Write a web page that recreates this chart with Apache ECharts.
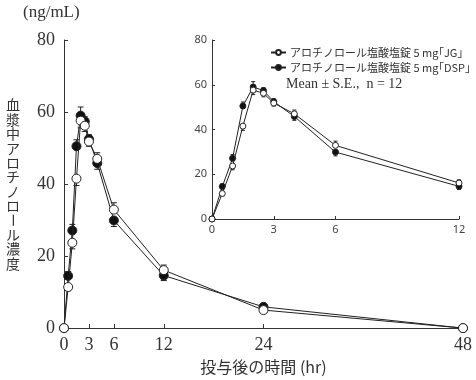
<!DOCTYPE html>
<html><head><meta charset="utf-8">
<script src="https://cdn.jsdelivr.net/npm/echarts@6/dist/echarts.min.js"></script>
<style>html,body{margin:0;padding:0;background:#fff}#c{width:476px;height:380px}</style>
</head><body><div id="c"></div>
<script>
// ---- data ----
const times = [0, 0.5, 1, 1.5, 2, 2.5, 3, 4, 6, 12, 24, 48];
const jgMean = [0, 11.4, 23.7, 41.5, 57.6, 56.2, 51.8, 47.0, 32.9, 16.1, 5.0, 0];
const dspMean = [0, 14.5, 27.1, 50.5, 59.0, 57.4, 52.5, 45.8, 29.9, 14.6, 5.9, 0];
const jgSE = [0, 1.0, 1.7, 1.9, 2.0, 1.6, 1.3, 1.7, 1.9, 1.4, 0.6, 0];
const dspSE = [0, 1.2, 1.7, 1.8, 2.4, 1.3, 1.2, 1.7, 1.7, 1.4, 0.6, 0];
const mainXTicks = [0, 3, 6, 12, 24, 48];
const insetXTicks = [0, 3, 6, 12];
const insetMaxT = 12;
const nameJG = 'アロチノロール塩酸塩錠 5 mg｢JG｣';
const nameDSP = 'アロチノロール塩酸塩錠 5 mg｢DSP｣';
const statsNote = 'Mean ± S.E.,  n = 12';
const yTitle = '血漿中アロチノロール濃度';
const yUnit = '(ng/mL)';
const xTitle = '投与後の時間 (hr)';

// ---- build ----
const pairs = (m, maxT) => times.map((t, i) => [t, m[i]]).filter(p => p[0] <= maxT);
const errData = (m, se, other, maxT) => times.map((t, i) => [t, m[i], se[i], m[i] >= other[i] ? 1 : -1]).filter(p => p[0] <= maxT);
const numFont = 'Liberation Serif';
const cjk = 'Noto Sans CJK JP';

function errSeries(data, xi, yi, cap) {
  return {
    type: 'custom', xAxisIndex: xi, yAxisIndex: yi, z: 1, silent: true,
    data: data,
    renderItem: function (params, api) {
      const t = api.value(0), m = api.value(1), se = api.value(2), d = api.value(3);
      if (!se) return null;
      const p0 = api.coord([t, m]);
      const p1 = api.coord([t, m + d * se]);
      return {
        type: 'group', children: [
          { type: 'line', shape: { x1: p0[0], y1: p0[1], x2: p1[0], y2: p1[1] }, style: { stroke: '#222', lineWidth: 1 } },
          { type: 'line', shape: { x1: p1[0] - cap, y1: p1[1], x2: p1[0] + cap, y2: p1[1] }, style: { stroke: '#222', lineWidth: 1 } }
        ]
      };
    }
  };
}
function lineSeries(name, data, xi, yi, open, size) {
  return {
    name: name, type: 'line', xAxisIndex: xi, yAxisIndex: yi, data: data,
    symbol: 'circle', symbolSize: size, showSymbol: true, z: open ? 4 : 3,
    lineStyle: { color: '#222', width: 1 },
    itemStyle: { color: open ? '#fff' : '#111', borderColor: '#222', borderWidth: 1 },
    emphasis: { disabled: true }, animation: false
  };
}

const axisLineStyle = { lineStyle: { color: '#333', width: 1 } };
const graphics = [
  { type: 'text', left: 23, top: 4, style: { text: yUnit, font: '17px "' + numFont + '"', fill: '#333' } },
  { type: 'text', left: 286, top: 77, style: { text: statsNote, font: '14px "' + numFont + '"', fill: '#333' } }
];
Array.from(yTitle).forEach((ch, i) => {
  const cy = 105 + i * 14.4;
  graphics.push({
    type: 'text', x: 13, y: cy, rotation: ch === 'ー' ? -Math.PI / 2 : 0,
    style: { text: ch, font: '14px "' + cjk + '"', fill: '#333', align: 'center', verticalAlign: 'middle' }
  });
});

const option = {
  animation: false,
  backgroundColor: '#fff',
  grid: [
    { left: 64, right: 13, top: 40, bottom: 51 },
    { left: 212, right: 17, top: 40, bottom: 161 }
  ],
  xAxis: [
    {
      type: 'value', gridIndex: 0, min: 0, max: 48,
      axisLine: axisLineStyle, splitLine: { show: false },
      axisTick: { inside: true, length: 4, customValues: mainXTicks, lineStyle: { color: '#333' } },
      axisLabel: { customValues: mainXTicks, margin: 8, fontSize: 18, fontFamily: numFont, color: '#333' },
      name: xTitle, nameLocation: 'middle', nameGap: 30,
      nameTextStyle: { fontSize: 16, fontFamily: cjk, color: '#333' }
    },
    {
      type: 'value', gridIndex: 1, min: 0, max: insetMaxT,
      axisLine: axisLineStyle, splitLine: { show: false },
      axisTick: { inside: true, length: 3, customValues: insetXTicks, lineStyle: { color: '#333' } },
      axisLabel: { customValues: insetXTicks, margin: 5, fontSize: 11, fontFamily: 'Noto Sans', color: '#444' }
    }
  ],
  yAxis: [
    {
      type: 'value', gridIndex: 0, min: 0, max: 80, interval: 20,
      axisLine: { show: true, lineStyle: { color: '#333', width: 1 } }, splitLine: { show: false },
      axisTick: { show: true, inside: true, length: 4, lineStyle: { color: '#333' } },
      axisLabel: { margin: 9, fontSize: 18, fontFamily: numFont, color: '#333' }
    },
    {
      type: 'value', gridIndex: 1, min: 0, max: 80, interval: 20,
      axisLine: { show: true, lineStyle: { color: '#333', width: 1 } }, splitLine: { show: false },
      axisTick: { show: true, inside: true, length: 3, lineStyle: { color: '#333' } },
      axisLabel: { margin: 5, fontSize: 11, fontFamily: 'Noto Sans', color: '#444' }
    }
  ],
  legend: {
    data: [nameJG, nameDSP], orient: 'vertical', left: 265, top: 42,
    itemWidth: 15, itemHeight: 6, itemGap: 4, selectedMode: false,
    textStyle: { fontSize: 11, fontFamily: cjk, color: '#333', padding: [0, 0, 0, -1] }
  },
  graphic: graphics,
  series: [
    errSeries(errData(dspMean, dspSE, jgMean, insetMaxT), 1, 1, 2),
    errSeries(errData(jgMean, jgSE, dspMean, insetMaxT), 1, 1, 2),
    lineSeries(nameDSP, pairs(dspMean, insetMaxT), 1, 1, false, 6),
    lineSeries(nameJG, pairs(jgMean, insetMaxT), 1, 1, true, 6),
    errSeries(errData(dspMean, dspSE, jgMean, 48), 0, 0, 3),
    errSeries(errData(jgMean, jgSE, dspMean, 48), 0, 0, 3),
    lineSeries(nameDSP, pairs(dspMean, 48), 0, 0, false, 9),
    lineSeries(nameJG, pairs(jgMean, 48), 0, 0, true, 9)
  ]
};
const chart = echarts.init(document.getElementById('c'), null, { renderer: 'canvas' });
chart.setOption(option);
</script></body></html>
